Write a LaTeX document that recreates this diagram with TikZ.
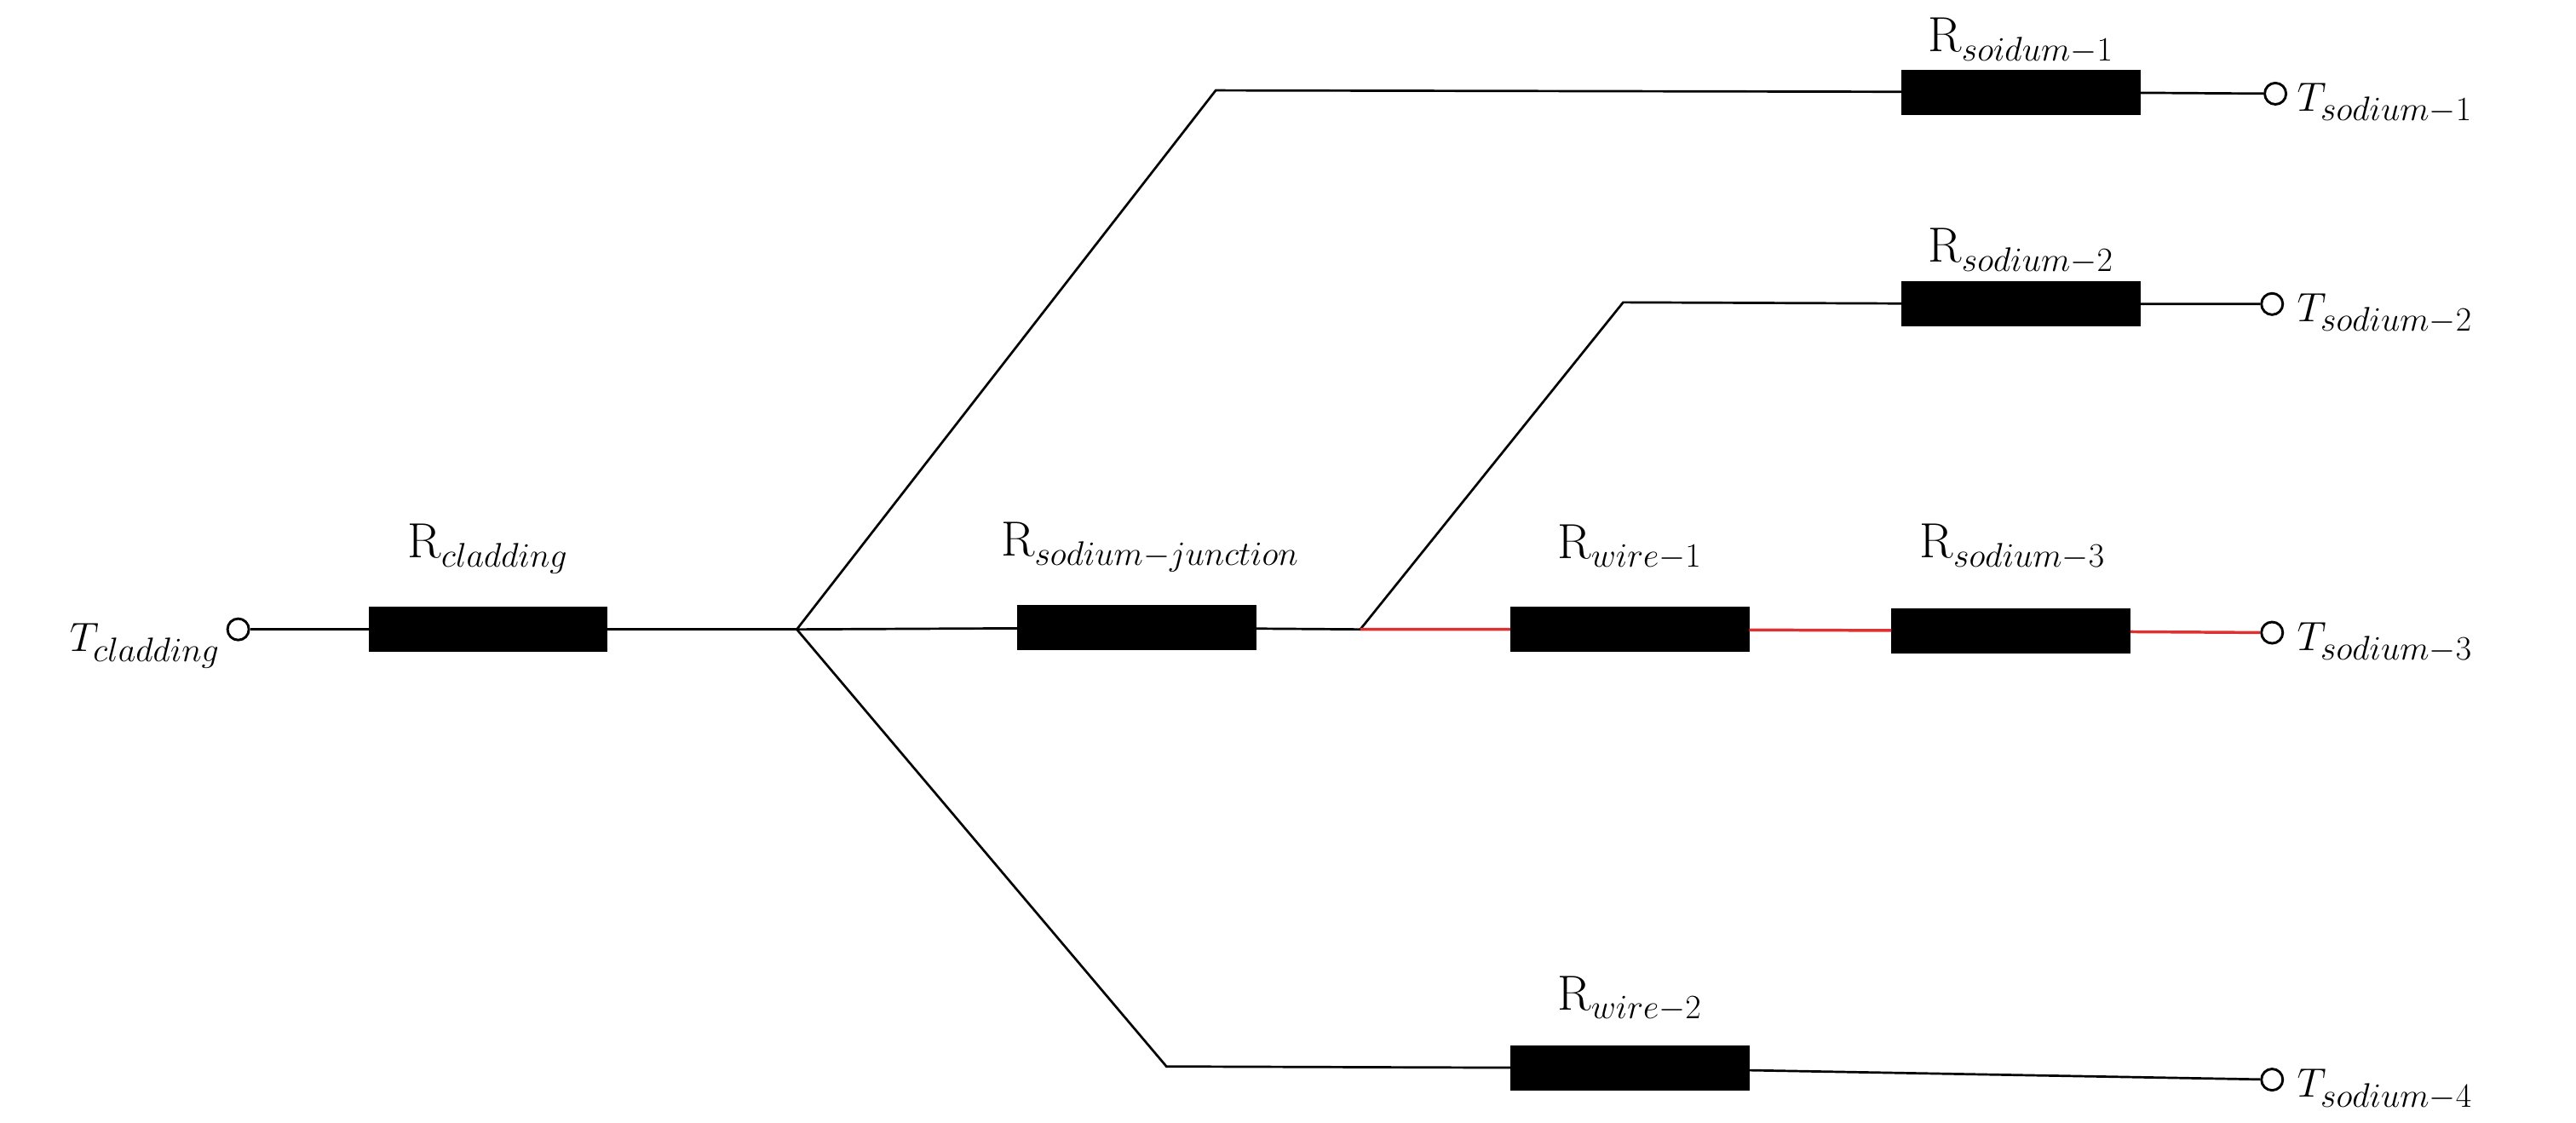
\documentclass[tikz,border=0pt]{standalone}
\begin{document}
\begin{tikzpicture}[x=1pt,y=-1pt,
  res/.style={fill=black,draw=black,minimum width=145pt,minimum height=27pt,inner sep=0pt},
  term/.style={circle,draw=black,line width=1.5pt,fill=white,minimum size=13pt,inner sep=0pt},
  lbl/.style={font=\fontsize{30}{34}\selectfont,inner sep=0pt},
  wire/.style={line width=1.4pt},
  redw/.style={line width=1.8pt,draw={rgb,255:red,220;green,50;blue,50}}]
\useasboundingbox (0,0) rectangle (1568,683);
% nodes
\node[term] (tc) at (145,383) {};
\node[res] (rc) at (297,383) {};
\coordinate (J) at (485,383);
\coordinate (a1) at (740,55);
\node[res] (r1) at (1230,56) {};
\node[term] (t1) at (1385,57) {};
\coordinate (a4) at (710,649);
\node[res] (r4) at (992,650) {};
\node[term] (t4) at (1383,657) {};
\node[res] (rj) at (692,382) {};
\coordinate (K) at (828,383);
\coordinate (a2) at (988,184);
\node[res] (r2) at (1230,185) {};
\node[term] (t2) at (1383,185) {};
\node[res] (rw1) at (992,383) {};
\node[res] (r3) at (1224,384) {};
\node[term] (t3) at (1383,385) {};
% wires
\draw[wire] (tc) -- (rc) -- (J);
\draw[wire] (J) -- (a1) -- (r1) -- (t1);
\draw[wire] (J) -- (a4) -- (r4) -- (t4);
\draw[wire] (J) -- (rj) -- (K);
\draw[wire] (K) -- (a2) -- (r2) -- (t2);
\draw[redw] (K) -- (rw1) -- (r3) -- (t3);
% labels
\node[lbl,anchor=east] (ltc) at (134,393) {$T_{cladding}$};
\node[lbl] (lrc) at (297,334) {R$_{cladding}$};
\node[lbl] (lr1) at (1230,25) {R$_{soidum-1}$};
\node[lbl] (lr2) at (1230,153) {R$_{sodium-2}$};
\node[lbl] (lrj) at (700,333) {R$_{sodium-junction}$};
\node[lbl] (lrw1) at (992,333) {R$_{wire-1}$};
\node[lbl] (lr3) at (1225,333) {R$_{sodium-3}$};
\node[lbl] (lrw2) at (992,608) {R$_{wire-2}$};
\node[lbl,anchor=west] (lt1) at (1398,63) {$T_{sodium-1}$};
\node[lbl,anchor=west] (lt2) at (1398,191) {$T_{sodium-2}$};
\node[lbl,anchor=west] (lt3) at (1398,391) {$T_{sodium-3}$};
\node[lbl,anchor=west] (lt4) at (1398,663) {$T_{sodium-4}$};
\end{tikzpicture}
\end{document}
